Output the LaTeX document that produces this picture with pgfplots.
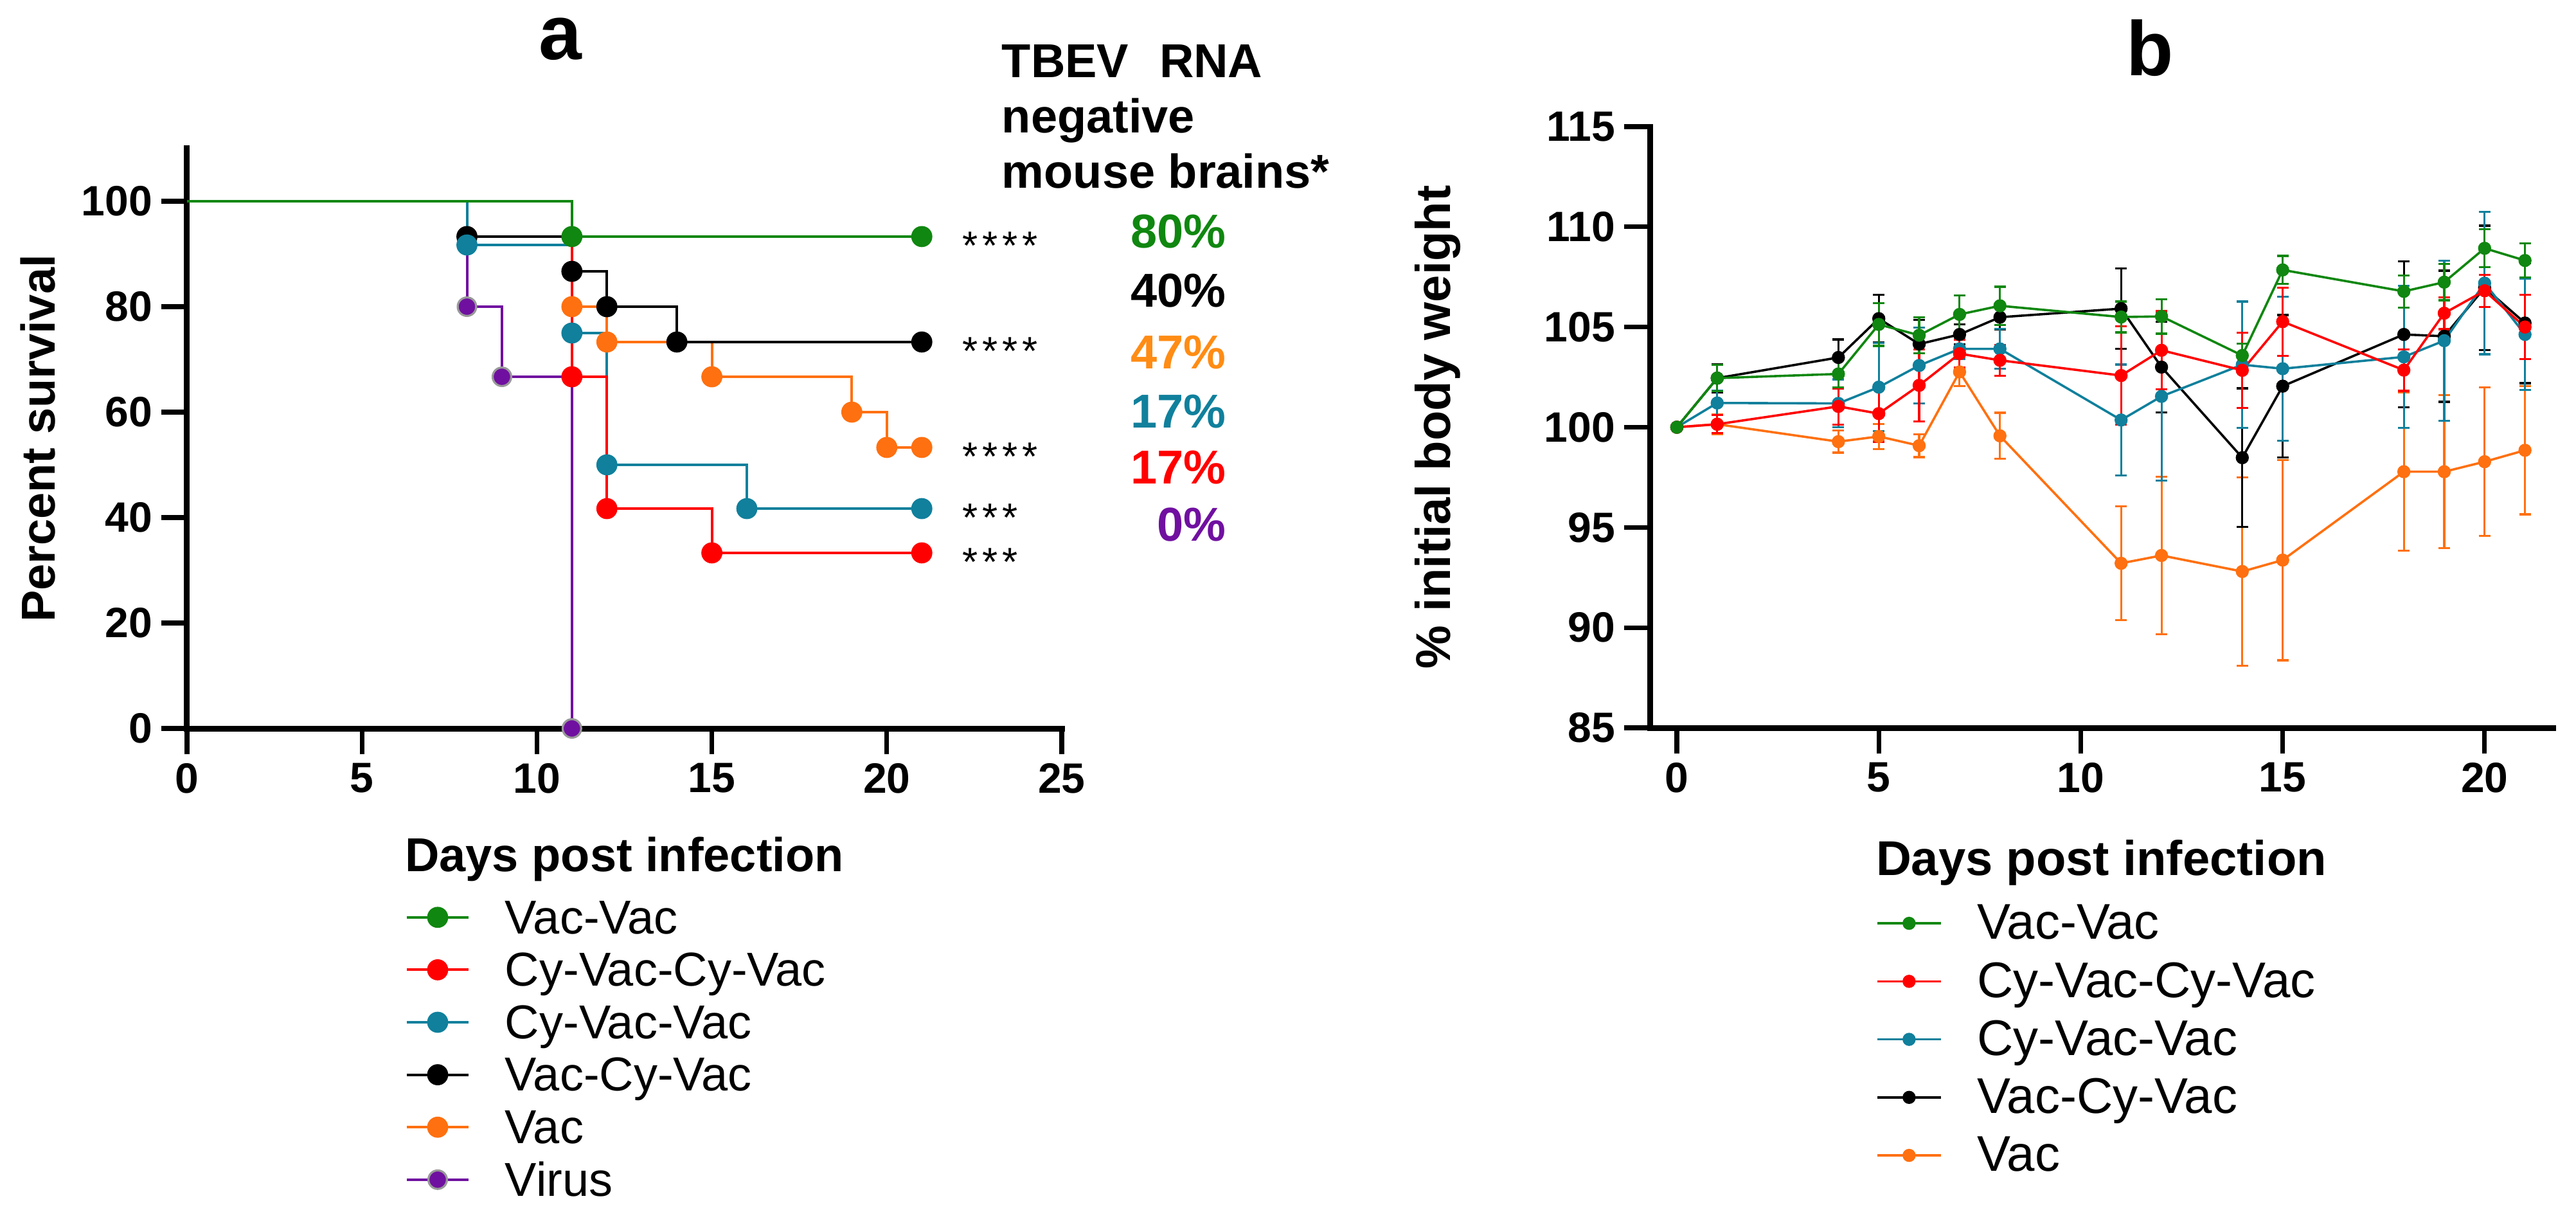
\documentclass[border=0pt]{standalone}
\usepackage{fontspec}
\setmainfont{Liberation Sans}
\usepackage{pgfplots}
\pgfplotsset{compat=1.18}
\usepackage{pgfplotstable}

\definecolor{cgreen}{RGB}{16,135,16}
\definecolor{cred}{RGB}{255,0,0}
\definecolor{cteal}{RGB}{16,128,156}
\definecolor{corange}{RGB}{255,112,16}
\definecolor{cpurple}{RGB}{112,16,160}
\definecolor{torange}{RGB}{255,140,20}

% ---------- panel a: Kaplan-Meier survival ----------
\pgfplotstableread{
x y
0 100
11 93.3
21 93.3
}\kmGreen
\pgfplotstableread{
x y
0 100
11 66.7
12 41.7
15 33.3
21 33.3
}\kmRed
\pgfplotstableread{
x y
0 100
8 91.7
11 75
12 50
16 41.7
21 41.7
}\kmTeal
\pgfplotstableread{
x y
0 100
8 93.3
11 86.7
12 80
14 73.3
21 73.3
}\kmBlack
\pgfplotstableread{
x y
0 100
11 80
12 73.3
15 66.7
19 60
20 53.3
21 53.3
}\kmOrange
\pgfplotstableread{
x y
0 100
8 80
9 66.7
11 0
}\kmPurple

% ---------- panel b: body weight ----------
\pgfplotstableread{
x y e
0 100 0
1 102.45 0.65
4 102.66 0.68
5 105.13 1.07
6 104.59 0.9
7 105.63 0.95
8 106.06 0.95
11 105.5 0.77
12 105.53 0.86
14 103.58 0.6
15 107.85 0.7
18 106.78 0.8
19 107.24 0.9
20 108.93 0.95
21 108.32 0.85
}\bwGreen
\pgfplotstableread{
x y e
0 100 0
1 100.15 0.45
4 101.04 0.9
5 100.68 1.4
6 102.09 1.8
7 103.67 0.7
8 103.34 0.77
11 102.58 2.46
12 103.84 1.95
14 102.84 1.87
15 105.27 1.7
18 102.85 1.04
19 105.69 0.8
20 106.81 0.8
21 105.0 1.6
}\bwRed
\pgfplotstableread{
x y e
0 100 0
1 101.21 0.6
4 101.19 1.2
5 102.0 2.2
6 103.08 1.9
7 103.91 0.5
8 103.91 1.0
11 100.36 2.77
12 101.54 4.2
14 103.12 3.15
15 102.92 3.6
18 103.51 3.55
19 104.32 4.0
20 107.19 3.55
21 104.63 2.77
}\bwTeal
\pgfplotstableread{
x y e
0 100 0
1 102.45 0.7
4 103.48 0.9
5 105.42 1.2
6 104.15 1.2
7 104.63 0.5
8 105.49 0.6
11 105.92 2.0
12 103.0 2.25
14 98.48 3.46
15 102.05 3.55
18 104.63 3.64
19 104.54 3.27
20 106.96 3.1
21 105.2 3.0
}\bwBlack
\pgfplotstableread{
x y e
0 100 0
1 100.15 0.5
4 99.28 0.55
5 99.54 0.63
6 99.08 0.57
7 102.76 0.7
8 99.57 1.15
11 93.21 2.84
12 93.6 3.94
14 92.8 4.7
15 93.37 5.0
18 97.78 3.95
19 97.78 3.82
20 98.28 3.7
21 98.85 3.2
}\bwOrange

\pgfplotsset{
  myax/.style={
    scale only axis,
    axis lines*=left,
    axis line style={line width=2.25pt, line cap=rect},
    tick align=outside,
    major tick length=10pt,
    tick style={line width=1.8pt, black},
    tick pos=left,
    /pgf/number format/assume math mode=true,
    tick label style={font=\bfseries\fontsize{16.5}{18}\selectfont},
    clip=false,
    legend cell align=left,
    reverse legend,
  },
  kma/.style={const plot, line width=1pt, color=#1, mark=*, mark size=3.6pt,
    mark options={solid, fill=#1, draw=#1}},
  bwb/.style={line width=0.9pt, color=#1, mark=*, mark size=2.1pt,
    mark options={solid, fill=#1, draw=#1},
    error bars/.cd, y dir=both, y explicit,
    error bar style={line width=0.8pt, color=#1},
    error mark options={rotate=90, mark size=2.25pt, line width=0.8pt, color=#1}},
}
\tikzset{
  stars/.style={anchor=base west, inner sep=0pt, outer sep=0pt,
    font=\fontsize{15.5}{16}\selectfont, yshift=-8.9pt},
}
\newcommand{\sg}{\hspace{1.7pt}}

\begin{document}
\begin{tikzpicture}
\useasboundingbox (0,0) rectangle (1002pt,474pt);

% ================= panel a =================
\begin{axis}[myax,
  at={(72.75pt,190.75pt)}, anchor=south west,
  width=340.25pt, height=225.5pt,
  xmin=0, xmax=25, ymin=0, ymax=110,
  xtick={0,5,...,25}, ytick={0,20,...,100},
  xlabel={Days post infection},
  ylabel={Percent survival},
  label style={font=\bfseries\fontsize{18.5}{22}\selectfont},
  xlabel style={at={(axis description cs:0.5,-0.2251)}, anchor=center},
  ylabel style={at={(axis description cs:-0.1705,0.5)}, anchor=center},
  legend style={at={(axis description cs:0.2498,-0.2805)}, anchor=north west,
    draw=none, fill=none, inner sep=0pt, outer sep=0pt, row sep=0pt,
    column sep=13.75pt, font=\fontsize{18.5}{20}\selectfont,
    nodes={inner sep=0pt, text height=16.5pt, text depth=3.9pt}},
  legend image code/.code={\draw[#1, mark indices={2}] plot coordinates {(0pt,0pt) (12pt,0pt) (24pt,0pt)};},
]
\addplot[kma=cpurple, mark indices={2,3,4}, mark options={fill=cpurple, draw=gray!80, line width=0.8pt}] table[x=x,y=y] {\kmPurple};
\addlegendentry{Virus}
\addplot[kma=corange, mark indices={2,3,4,5,6,7}] table[x=x,y=y] {\kmOrange};
\addlegendentry{Vac}
\addplot[kma=black, mark indices={2,3,4,5,6}] table[x=x,y=y] {\kmBlack};
\addlegendentry{Vac-Cy-Vac}
\addplot[kma=cteal, mark indices={2,3,4,5,6}] table[x=x,y=y] {\kmTeal};
\addlegendentry{Cy-Vac-Vac}
\addplot[kma=cred, mark indices={2,3,4,5}] table[x=x,y=y] {\kmRed};
\addlegendentry{Cy-Vac-Cy-Vac}
\addplot[kma=cgreen, mark indices={2,3}] table[x=x,y=y] {\kmGreen};
\addlegendentry{Vac-Vac}

\node[stars] at (axis cs:22.17,93.3) {*\sg*\sg*\sg*};
\node[stars] at (axis cs:22.17,73.3) {*\sg*\sg*\sg*};
\node[stars] at (axis cs:22.17,53.3) {*\sg*\sg*\sg*};
\node[stars] at (axis cs:22.17,41.7) {*\sg*\sg*};
\node[stars] at (axis cs:22.17,33.3) {*\sg*\sg*};
\end{axis}

% ================= panel b =================
\begin{axis}[myax,
  at={(641.75pt,191pt)}, anchor=south west,
  width=351.25pt, height=233.75pt,
  xmin=-0.668, xmax=21.69, ymin=85, ymax=115,
  xtick={0,5,...,20}, ytick={85,90,...,115},
  xlabel={Days post infection},
  ylabel={\% initial body weight},
  label style={font=\bfseries\fontsize{19}{22}\selectfont},
  xlabel style={at={(axis description cs:0.5,-0.2246)}, anchor=center},
  ylabel style={at={(axis description cs:-0.2349,0.5)}, anchor=center},
  legend style={at={(axis description cs:0.2505,-0.277)}, anchor=north west,
    draw=none, fill=none, inner sep=0pt, outer sep=0pt, row sep=0pt,
    column sep=13.75pt, font=\fontsize{19.5}{21}\selectfont,
    nodes={inner sep=0pt, text height=17.5pt, text depth=5.06pt}},
  legend image code/.code={\draw[#1, mark repeat=2, mark phase=2] plot coordinates {(0pt,0pt) (12.4pt,0pt) (24.75pt,0pt)};},
]
\addplot[bwb=corange] table[x=x,y=y,y error=e] {\bwOrange};
\addlegendentry{Vac}
\addplot[bwb=black] table[x=x,y=y,y error=e] {\bwBlack};
\addlegendentry{Vac-Cy-Vac}
\addplot[bwb=cteal] table[x=x,y=y,y error=e] {\bwTeal};
\addlegendentry{Cy-Vac-Vac}
\addplot[bwb=cred] table[x=x,y=y,y error=e] {\bwRed};
\addlegendentry{Cy-Vac-Cy-Vac}
\addplot[bwb=cgreen] table[x=x,y=y,y error=e] {\bwGreen};
\addlegendentry{Vac-Vac}
\end{axis}

% ================= annotations =================
\node[anchor=base, font=\bfseries\fontsize{30}{32}\selectfont] at (217.9pt,450.75pt) {a};
\node[anchor=base, font=\bfseries\fontsize{30}{32}\selectfont] at (836.4pt,444.5pt) {b};

\begin{scope}[every node/.style={font=\bfseries\fontsize{18.5}{22}\selectfont, inner sep=0pt}]
\node[anchor=base west] at (389.5pt,443.75pt) {TBEV\hspace{12pt}RNA};
\node[anchor=base west] at (389.5pt,422.25pt) {negative};
\node[anchor=base west] at (389.5pt,400.75pt) {mouse brains*};
\node[anchor=base east, text=cgreen] at (477pt,377.5pt) {80\%};
\node[anchor=base east, text=black] at (477pt,354.5pt) {40\%};
\node[anchor=base east, text=torange] at (477pt,330.5pt) {47\%};
\node[anchor=base east, text=cteal] at (477pt,307.5pt) {17\%};
\node[anchor=base east, text=cred] at (477pt,285.75pt) {17\%};
\node[anchor=base east, text=cpurple] at (477pt,263.5pt) {0\%};
\end{scope}
\end{tikzpicture}
\end{document}
